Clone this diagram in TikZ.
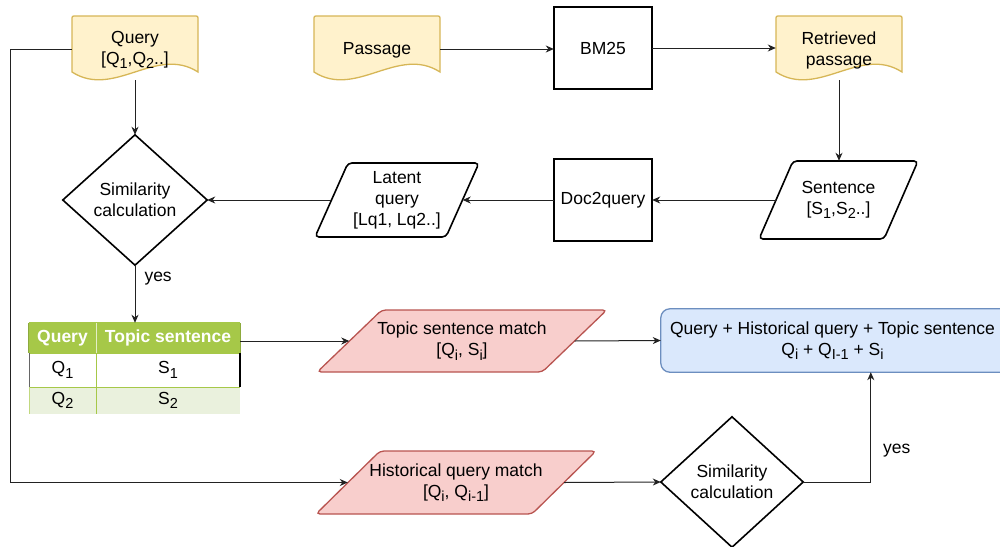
\documentclass[tikz,border=0pt]{standalone}
\usepackage{fontspec}
\setmainfont{Liberation Sans}
\usetikzlibrary{calc,arrows.meta,backgrounds}
\definecolor{docfill}{HTML}{FFF2CC}
\definecolor{docline}{HTML}{D6B656}
\definecolor{redfill}{HTML}{F8CECC}
\definecolor{redline}{HTML}{B85450}
\definecolor{bluefill}{HTML}{DAE8FC}
\definecolor{blueline}{HTML}{6C8EBF}
\definecolor{tgreen}{RGB}{166,200,72}
\definecolor{tlight}{RGB}{234,241,221}
\definecolor{conn}{HTML}{222222}
\newcommand\sbs[1]{\raisebox{-0.5ex}{\fontsize{14.5}{14.5}\selectfont #1}}
\newcommand\docshape[1]{%
  \filldraw[fill=docfill,draw=docline,line width=1.3pt]
  ($(#1.center)+(-63,22)$) -- ($(#1.center)+(-63,-30)$)
  .. controls ($(#1.center)+(-63,-34)$) .. ($(#1.center)+(-59,-34)$)
  -- ($(#1.center)+(59,-34)$)
  .. controls ($(#1.center)+(63,-34)$) .. ($(#1.center)+(63,-30)$)
  -- ($(#1.center)+(63,22)$)
  .. controls ($(#1.center)+(21,-5)$) and ($(#1.center)+(-21,49)$) .. cycle;}
% name, half width, half height, skew, style
\newcommand\paral[5]{%
  \draw[#5, rounded corners=4pt]
  ($(#1.center)+(-#2+#4/2,-#3)$) -- ($(#1.center)+(#2+#4/2,-#3)$)
  -- ($(#1.center)+(#2-#4/2,#3)$) -- ($(#1.center)+(-#2-#4/2,#3)$) -- cycle;}
\newcommand\diam[1]{%
  \draw[shapeline, fill=white] (#1.north) -- (#1.east) -- (#1.south) -- (#1.west) -- cycle;}
\begin{document}
\begin{tikzpicture}[x=1pt,y=-1pt,
  txt/.style={font=\fontsize{17.5}{21}\selectfont, align=center, text=black, inner sep=0pt},
  hdr/.style={font=\bfseries\fontsize{17.5}{21}\selectfont, text=white, inner sep=0pt},
  cell/.style={txt},
  shapeline/.style={draw=black, line width=1.6pt},
  arr/.style={draw=conn, line width=1pt, -{Stealth[length=8pt,width=7pt,inset=2.5pt]}},
  plain/.style={draw=conn, line width=1pt}]
\useasboundingbox (0,0) rectangle (1000,546);
\clip (0,0) rectangle (1000,546);

% documents
\node[txt, minimum width=126, minimum height=64] (query) at (135,50) {Query\\{[}Q\sbs{1},Q\sbs{2}..]};
\node[txt, minimum width=126, minimum height=64] (passage) at (377,50) {Passage};
\node[txt, minimum width=126, minimum height=64] (retr) at (839,50) {Retrieved\\passage};
% boxes
\node[txt, minimum width=98, minimum height=82] (bm) at (603,48) {BM25};
\node[txt, minimum width=98, minimum height=82] (d2q) at (603,200) {Doc2query};
% parallelograms
\node[txt, minimum width=125, minimum height=78] (sent) at (838.5,200) {Sentence\\{[}S\sbs{1},S\sbs{2}..]};
\node[txt, minimum width=131, minimum height=74] (latent) at (397,200) {Latent\\query\\{[}Lq1, Lq2..]};
\node[txt, minimum width=225, minimum height=62] (match) at (462,341) {Topic sentence match\\{[}Q\sbs{i}, S\sbs{i}]};
\node[txt, minimum width=216, minimum height=63] (hist) at (456,482.5) {Historical query match\\{[}Q\sbs{i}, Q\sbs{i-1}]};
% diamonds
\node[txt, minimum width=144, minimum height=130] (sim1) at (135,200) {Similarity\\calculation};
\node[txt, minimum width=142, minimum height=130] (sim2) at (732,482) {Similarity\\calculation};
% result box
\node[txt, minimum width=343, minimum height=63] (blue) at (832.5,340.5) {Query + Historical query + Topic sentence\\Q\sbs{i} + Q\sbs{I-1} + S\sbs{i}};
% table
\node[hdr, minimum width=67, minimum height=30] (h1) at (62.5,338) {Query};
\node[hdr, minimum width=144, minimum height=30] (h2) at (168,338) {Topic sentence};
\node[cell] (c11) at (62.5,370) {Q\sbs{1}};
\node[cell] (c12) at (168,370) {S\sbs{1}};
\node[cell] (c21) at (62.5,400.5) {Q\sbs{2}};
\node[cell] (c22) at (168,400.5) {S\sbs{2}};

\begin{pgfonlayer}{background}
  \clip (0,0) rectangle (1000,546);
  \docshape{query}
  \docshape{passage}
  \docshape{retr}
  \draw[shapeline] (bm.north west) rectangle (bm.south east);
  \draw[shapeline] (d2q.north west) rectangle (d2q.south east);
  \paral{sent}{62.5}{39}{34}{shapeline, fill=white}
  \paral{latent}{65.5}{37}{33}{shapeline, fill=white}
  \paral{match}{112.5}{31}{64.5}{draw=redline, line width=1.3pt, fill=redfill}
  \paral{hist}{108}{31.5}{64}{draw=redline, line width=1.3pt, fill=redfill}
  \diam{sim1}
  \diam{sim2}
  \draw[draw=blueline, line width=1.3pt, fill=bluefill, rounded corners=9pt]
    (blue.north west) rectangle ($(blue.south east)+(10,0)$);
  % table body
  \fill[tgreen] (h1.north west) rectangle (h2.south east);
  \fill[white] (h1.south west) rectangle (240,387);
  \fill[tlight] (29,387) rectangle (240,414);
  \draw[tgreen, line width=1pt] (h1.north west) -- (h2.north east);
  \draw[tgreen!85!black, line width=1pt] (h1.north west) -- (h1.south west);
  \draw[tgreen!85!black, line width=1pt] (h2.north east) -- (h2.south east);
  \draw[white!70!tgreen, line width=1pt] (h1.north east) -- (h1.south east);
  \draw[tgreen, line width=1pt] (96,353) -- (96,414);
  \draw[tgreen, line width=1pt] (29,353) -- (240,353);
  \draw[tgreen, line width=1pt] (29,387) -- (240,387);
  \draw[black!60, line width=1.2pt] (29.5,353) -- (29.5,387);
  \draw[black, line width=1.2pt] (240,353) -- (240,387);
  \draw[tgreen!70, line width=0.8pt] (29.5,387) -- (29.5,414);
\end{pgfonlayer}

% connectors
\coordinate (qbot) at ($(query.center)+(0,30)$);
\coordinate (rbot) at ($(retr.center)+(0,30)$);
\coordinate (lc) at (10,482.5);
\coordinate (up) at ($(blue.south west)+(210,0)$);
\draw[arr] (passage.west -| passage.east) ++(0,-1) coordinate (pe) -- (pe -| bm.west);
\draw[arr] (bm.east) -- (retr.west |- bm.east);
\draw[arr] (rbot) -- (rbot |- sent.north);
\draw[arr] (sent.west) -- (d2q.east);
\draw[arr] (d2q.west) -- (latent.east);
\draw[arr] (latent.west) -- (sim1.east);
\draw[arr] (qbot) -- (sim1.north);
\draw[arr] (sim1.south) -- (sim1.south |- h2.north)
  node[txt, pos=0.24, anchor=west, xshift=9pt] (yes1) {yes};
\draw[arr] (match.west -| h2.east) -- (match.west);
\draw[arr] (match.east) -- (blue.west);
\draw[arr] (query.west) ++(0,-1) coordinate (qw) -| (lc) -- (hist.west);
\draw[arr] (hist.east) -- (sim2.west);
\draw[arr] (sim2.east) -| (up);
\node[txt, anchor=west] (yes2) at (883,451) {yes};
\end{tikzpicture}
\end{document}
